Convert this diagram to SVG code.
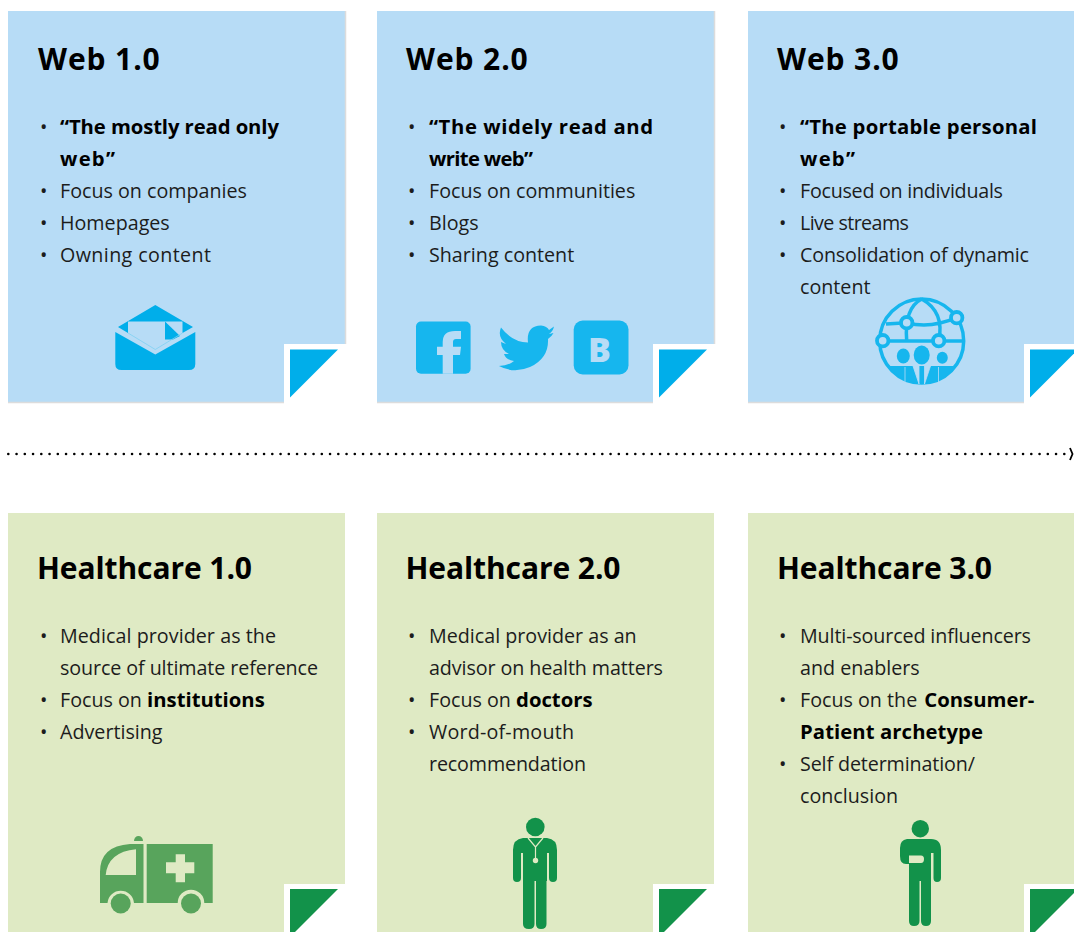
<svg xmlns="http://www.w3.org/2000/svg" width="1074" height="932" viewBox="0 0 1074 932">
<style>
text{font-family:"Open Sans","Noto Sans","Liberation Sans",sans-serif;fill:#1c1c1c}
.t{font-size:30px;font-weight:700;fill:#000}
.tw{letter-spacing:.9px}
.b{font-size:19.700px}
.s{font-weight:700;font-size:20.300px;fill:#000}
.blue{fill:#b7dcf6}
.green{fill:#dfeac4}
.shade{fill:none;stroke:#dcdcdc;stroke-width:1.500}
.w{fill:#fff}
.tb{fill:#00aeea}
.tg{fill:#12924a}
.ic{fill:#16b6ee}
.en{fill:#00aeea}
.am{fill:#58a45c}
.gr{fill:#12924a}
</style>
<defs><clipPath id="gc"><circle cx="921.700" cy="341" r="42"/></clipPath></defs>
<g id="web1">
<rect class="blue" x="8" y="11" width="337" height="391"/>
<path class="shade" d="M345.500 11V344M8 402.500H284"/>
<rect class="w" x="284" y="344" width="62" height="59"/>
<path class="tb" d="M290 349.500H338L290 397.500Z"/>
<text class="t tw" x="38" y="70">Web 1.0</text>
<g class="b"><text x="40" y="134">•</text><text class="s" x="60" y="134" textLength="219">“The mostly read only</text><text class="s" x="60" y="166" textLength="55">web”</text><text x="40" y="198">•</text><text x="60" y="198">Focus on companies</text><text x="40" y="230">•</text><text x="60" y="230">Homepages</text><text x="40" y="262">•</text><text x="60" y="262" textLength="151">Owning content</text></g>
<g><path class="en" d="M155.300 305L193 327L182.500 333V321.500H128V333L118 327Z"/><path class="en" d="M165 321.500L180 336L173 339.500H165Z"/><path class="en" d="M115.300 332L155.300 354.500L195.300 332V364Q195.300 370 189 370H121.500Q115.300 370 115.300 364Z"/><path d="M128 333L155.300 349.500L182.500 333" fill="none" stroke="#7fd0f2" stroke-width="0.800"/></g>
</g>
<g id="web2">
<rect class="blue" x="377" y="11" width="337" height="391"/>
<path class="shade" d="M714.500 11V344M377 402.500H653"/>
<rect class="w" x="653" y="344" width="62" height="59"/>
<path class="tb" d="M659 349.500H707L659 397.500Z"/>
<text class="t tw" x="406" y="70">Web 2.0</text>
<g class="b"><text x="408" y="134">•</text><text class="s" x="429" y="134" textLength="224">“The widely read and</text><text class="s" x="429" y="166" textLength="104">write web”</text><text x="408" y="198">•</text><text x="429" y="198">Focus on communities</text><text x="408" y="230">•</text><text x="429" y="230">Blogs</text><text x="408" y="262">•</text><text x="429" y="262">Sharing content</text></g>
<rect class="ic" x="416" y="321.500" width="54.600" height="52.200" rx="5"/>
<path class="blue" d="M442.700 373.700V355H437V346.700H442.700V342Q442.700 331 455 331H461V339H456Q453 339 453 342V346.700H461L460 355H453V373.700Z"/>
<path class="ic" d="M501 327.500Q512 342 528 342.500Q526 326 541 325.500Q547 326 549 330L554 326.500Q553 331 549 334L553.500 333Q552 336 548 339Q549 358 530 367Q514 374 499 366Q508 366 514 361Q506 360 504 354H509Q501 350 501 342L506 344Q497 337 501 327.500Z"/>
<rect class="ic" x="573.700" y="320.500" width="54.800" height="54" rx="9"/>
<text x="588" y="361.700" font-size="34" font-weight="800" style="fill:#b7dcf6">B</text>
</g>
<g id="web3">
<rect class="blue" x="748" y="11" width="326" height="391"/>
<path class="shade" d="M748 402.500H1024"/>
<rect class="w" x="1024" y="344" width="50" height="59"/>
<path class="tb" d="M1030 349.500H1078L1030 397.500Z"/>
<text class="t tw" x="777" y="70">Web 3.0</text>
<g class="b"><text x="779" y="134">•</text><text class="s" x="800" y="134" textLength="237">“The portable personal</text><text class="s" x="800" y="166" textLength="55">web”</text><text x="779" y="198">•</text><text x="800" y="198" textLength="203">Focused on individuals</text><text x="779" y="230">•</text><text x="800" y="230" textLength="109">Live streams</text><text x="779" y="262">•</text><text x="800" y="262" textLength="229">Consolidation of dynamic</text><text x="800" y="294">content</text></g>
<g fill="none" stroke="#16b6ee" stroke-width="3.500">
<circle cx="921.700" cy="341" r="42"/>
<path d="M883 341H963M886 324L907 322.700Q930 329 956.700 317.700M921.700 299Q904 308 906.700 341M921.700 299Q945 312 938.700 341"/>
</g>
<g fill="#b7dcf6" stroke="#16b6ee" stroke-width="3.800"><circle cx="882.700" cy="340.700" r="5.700"/><circle cx="906.700" cy="322.700" r="5.700"/><circle cx="938.700" cy="340.700" r="5.700"/><circle cx="956.700" cy="317.700" r="5.700"/></g>
<g class="ic"><ellipse cx="903.300" cy="356" rx="6.500" ry="7.500"/><ellipse cx="921.700" cy="355" rx="8" ry="9.500"/><ellipse cx="942.300" cy="357.700" rx="5.500" ry="6"/><rect x="880" y="366" width="84" height="22" clip-path="url(#gc)"/></g>
<path d="M905 367V384M938.500 367V384M913 366L919 384V366ZM930.500 366L924.500 384V366Z" fill="#b7dcf6" stroke="#b7dcf6" stroke-width="0.800"/>
</g>
<g id="timeline">
<line x1="8.300" y1="454" x2="1068" y2="454" stroke="#000" stroke-width="2.600" stroke-linecap="round" stroke-dasharray="0 8.250"/>
<path d="M1070 448L1072.500 454L1070 460" fill="none" stroke="#000" stroke-width="1.800"/>
</g>
<g id="health1">
<rect class="green" x="8" y="513" width="337" height="419"/>
<rect class="w" x="284" y="884" width="62" height="48"/>
<path class="tg" d="M290 889H338L290 937Z"/>
<text class="t" x="37" y="579" textLength="215">Healthcare 1.0</text>
<g class="b"><text x="40" y="643">•</text><text x="60" y="643" textLength="216">Medical provider as the</text><text x="60" y="675" textLength="258">source of ultimate reference</text><text x="40" y="707">•</text><text x="60" y="707">Focus on <tspan class="s">institutions</tspan></text><text x="40" y="739">•</text><text x="60" y="739">Advertising</text></g>
<path class="am" d="M134 841A4.500 5 0 0 1 143 841Z"/>
<path class="am" fill-rule="evenodd" d="M143.500 844V903H134A13.300 13.300 0 0 0 107.500 903H100V872Q100 846 130 844ZM136 849.300Q108 852 105.700 875H136Z"/>
<path class="am" fill-rule="evenodd" d="M146.700 844H212.700V903H204.300A13.300 13.300 0 0 0 177.700 903H146.700ZM175.700 854.300V862.300H166V873.300H175.700V882.300H185V873.300H194.300V862.300H185V854.300Z"/>
<circle class="am" cx="120.700" cy="903.500" r="10"/><circle class="am" cx="191" cy="903.500" r="10"/>
</g>
<g id="health2">
<rect class="green" x="377" y="513" width="337" height="419"/>
<rect class="w" x="653" y="884" width="62" height="48"/>
<path class="tg" d="M659 889H707L659 937Z"/>
<text class="t" x="405.500" y="579" textLength="215">Healthcare 2.0</text>
<g class="b"><text x="408" y="643">•</text><text x="429" y="643">Medical provider as an</text><text x="429" y="675" textLength="234">advisor on health matters</text><text x="408" y="707">•</text><text x="429" y="707">Focus on <tspan class="s">doctors</tspan></text><text x="408" y="739">•</text><text x="429" y="739" textLength="145">Word-of-mouth</text><text x="429" y="771" textLength="157">recommendation</text></g>
<circle class="gr" cx="535.300" cy="827" r="9.300"/>
<path class="gr" d="M523 838H547Q557 839 557 850V878Q557 882 553 882Q549 882 549 878V853H547V881H546.500V924Q546.500 929 541 929Q536 929 536 924V881H534.500V924Q534.500 929 529 929Q523 929 523 924V853H521V878Q521 882 517 882Q513 882 513 878V850Q513 839 523 838Z"/>
<path d="M528 838L535.500 847L543 838M535.500 847V858" fill="none" stroke="#dfeac4" stroke-width="1.200"/><circle cx="535.500" cy="860.500" r="2.700" fill="#dfeac4"/>
</g>
<g id="health3">
<rect class="green" x="748" y="513" width="326" height="419"/>
<rect class="w" x="1024" y="884" width="50" height="48"/>
<path class="tg" d="M1030 889H1078L1030 937Z"/>
<text class="t" x="777" y="579" textLength="215">Healthcare 3.0</text>
<g class="b"><text x="779" y="643">•</text><text x="800" y="643" textLength="231">Multi-sourced influencers</text><text x="800" y="675">and enablers</text><text x="779" y="707">•</text><text x="800" y="707">Focus on the <tspan class="s" dx="2">Consumer-</tspan></text><text class="s" x="800" y="739" textLength="183">Patient archetype</text><text x="779" y="771">•</text><text x="800" y="771" textLength="175">Self determination/</text><text x="800" y="803">conclusion</text></g>
<circle class="gr" cx="920.300" cy="828.700" r="8.700"/>
<path class="gr" d="M907 839H931Q941 839 941 850V878Q941 882 937 882Q933.500 882 933.500 878V853H931V921Q931 926 926 926Q921 926 921 921V881H919.500V921Q919.500 926 914 926Q909 926 909 921V864H906Q900 864 900 856V848Q900 840 907 839Z"/>
<path d="M909 855.500H921Q924 855.500 924 859Q924 863 921 863H909Z" fill="#dfeac4"/>
</g>
</svg>
